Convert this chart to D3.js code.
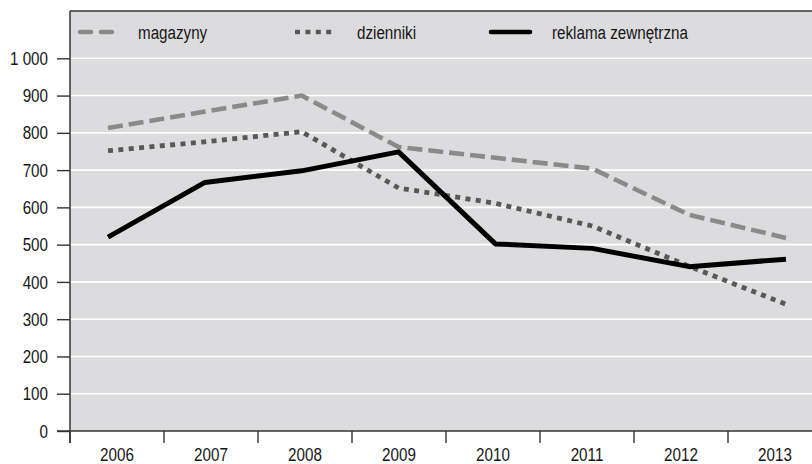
<!DOCTYPE html>
<html>
<head>
<meta charset="utf-8">
<script src="https://cdn.jsdelivr.net/npm/d3@7"></script>
<style>
  html, body { margin: 0; padding: 0; background: #fff; }
  svg { display: block; font-family: "Liberation Sans", Arial, sans-serif; }
</style>
</head>
<body>
<div id="chart"></div>
<script>
// ------- data -------
const years = ["2006", "2007", "2008", "2009", "2010", "2011", "2012", "2013"];
const magazyny = [813, 857, 900, 762, 733, 704, 580, 518];
const dzienniki = [752, 776, 803, 652, 611, 550, 442, 340];
const reklama = [520, 667, 698, 749, 502, 490, 441, 461];
const seriesNames = ["magazyny", "dzienniki", "reklama zewnętrzna"];
const yTicks = [0, 100, 200, 300, 400, 500, 600, 700, 800, 900, 1000];

(() => {
  const width = 812, height = 464;
  const left = 70, top = 11, bottom = 431;
  const axisColor = "#333";
  const NARROW = 0.8; // squeeze Liberation Sans to look like a narrow face
  const FONT = "19px";

  const styles = [
    { color: "#8a8a8a", width: 4.6, dash: "15,6" },
    { color: "#585858", width: 4.8, dash: "5,5.4" },
    { color: "#000", width: 5, dash: null }
  ];
  const series = [magazyny, dzienniki, reklama];

  const pl = d3.formatLocale({ decimal: ",", thousands: "\u00a0", grouping: [3], currency: ["", " zł"] });
  const fmt = pl.format(",d");

  const svg = d3.select("#chart").append("svg")
    .attr("width", width).attr("height", height);

  // narrow text helper: put text at (x,y) and squeeze horizontally
  const label = (parent, tx, ty, str, anchor) =>
    parent.append("text")
      .attr("transform", `translate(${tx},${ty}) scale(${NARROW},1)`)
      .attr("text-anchor", anchor || "start")
      .attr("fill", "#161616")
      .style("font-size", FONT)
      .text(str);

  const x = d3.scaleBand().domain(years).range([left, left + 8 * 94]);
  const xp = d3.scalePoint().domain(years).range([108, 786]);
  const y = d3.scaleLinear().domain([0, 1000]).range([bottom, 58.3]);

  // plot background
  svg.append("rect")
    .attr("x", left).attr("y", top)
    .attr("width", width - left).attr("height", bottom - top)
    .attr("fill", "#dcdcde");

  // gridlines
  svg.append("g").selectAll("line")
    .data(yTicks.filter(d => d > 0))
    .join("line")
    .attr("x1", left).attr("x2", width)
    .attr("y1", d => y(d)).attr("y2", d => y(d))
    .attr("stroke", "#fff").attr("stroke-width", 1.6);

  // y axis
  const yAxis = d3.axisLeft(y).tickValues(yTicks).tickFormat(fmt).tickSize(13).tickPadding(9);
  svg.append("g")
    .attr("transform", `translate(${left},0)`)
    .call(yAxis)
    .call(g => g.select(".domain").remove())
    .call(g => g.selectAll("line").attr("stroke", axisColor).attr("stroke-width", 1.4))
    .call(g => g.selectAll("text")
      .attr("fill", "#161616")
      .style("font-size", FONT)
      .attr("transform", function () {
        return `translate(${+this.getAttribute("x")},0) scale(${NARROW},1)`;
      })
      .attr("x", 0));

  // x axis: ticks at band boundaries
  svg.append("g").selectAll("line")
    .data(years)
    .join("line")
    .attr("x1", d => x(d)).attr("x2", d => x(d))
    .attr("y1", bottom).attr("y2", bottom + 12)
    .attr("stroke", axisColor).attr("stroke-width", 1.4);

  const xl = svg.append("g");
  years.forEach(d => label(xl, x(d) + x.bandwidth() / 2, 460.5, d, "middle"));

  // axis lines + top border
  svg.append("line")
    .attr("x1", left - 13).attr("x2", width).attr("y1", bottom).attr("y2", bottom)
    .attr("stroke", axisColor).attr("stroke-width", 1.5);
  svg.append("line")
    .attr("x1", left).attr("x2", left).attr("y1", top).attr("y2", bottom + 12)
    .attr("stroke", axisColor).attr("stroke-width", 1.5);
  svg.append("line")
    .attr("x1", left).attr("x2", width).attr("y1", top).attr("y2", top)
    .attr("stroke", axisColor).attr("stroke-width", 1.6);

  // series lines
  const line = d3.line().x((d, i) => xp(years[i])).y(d => y(d));
  series.forEach((vals, i) => {
    const s = styles[i];
    svg.append("path")
      .datum(vals)
      .attr("d", line)
      .attr("fill", "none")
      .attr("stroke", s.color)
      .attr("stroke-width", s.width)
      .attr("stroke-dasharray", s.dash)
      .attr("stroke-linejoin", i === 2 ? "round" : "miter");
  });

  // legend
  const legendItems = [
    { x0: 80, x1: 113, tx: 138, dash: "11,10", cap: "round" },
    { x0: 295, x1: 333, tx: 357, dash: "5,5.4", cap: "butt" },
    { x0: 491, x1: 530, tx: 552, dash: null, cap: "round" }
  ];
  const lg = svg.append("g");
  seriesNames.forEach((name, i) => {
    const it = legendItems[i];
    lg.append("line")
      .attr("x1", it.x0).attr("x2", it.x1).attr("y1", 32).attr("y2", 32)
      .attr("stroke", styles[i].color)
      .attr("stroke-width", i === 2 ? 4.6 : 4.4)
      .attr("stroke-dasharray", it.dash)
      .attr("stroke-linecap", it.cap);
    label(lg, it.tx, 39, name);
  });
})();
</script>
</body>
</html>
